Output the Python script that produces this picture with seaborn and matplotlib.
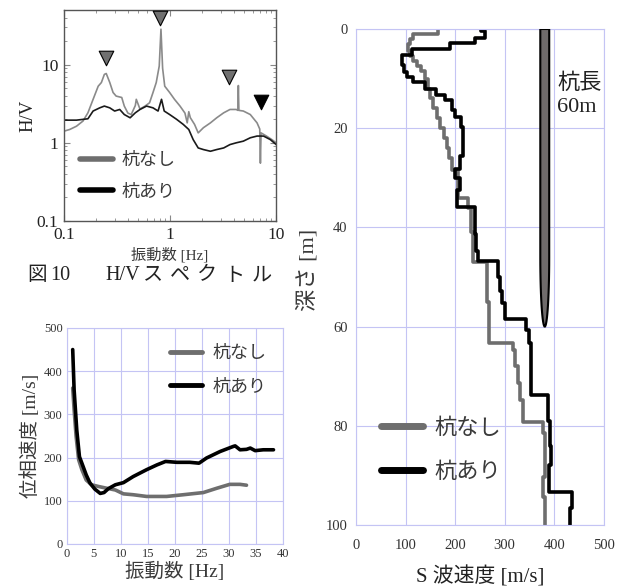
import numpy as np
import matplotlib
matplotlib.use('Agg')
import matplotlib.pyplot as plt
import seaborn as sns
from matplotlib.lines import Line2D
from matplotlib.patches import Polygon

# --- H/V spectrum ---
hv_freq_none = [0.1, 0.113, 0.131, 0.151, 0.168, 0.188, 0.21, 0.225, 0.24, 0.25, 0.27, 0.29,
                0.31, 0.35, 0.37, 0.40, 0.43, 0.47, 0.48, 0.52, 0.58, 0.64, 0.69, 0.74, 0.79,
                0.82, 0.85, 0.89, 0.99, 1.1, 1.24, 1.38, 1.45, 1.5, 1.55, 1.7, 1.84, 2.06, 2.4,
                2.75, 3.2, 3.67, 4.2, 4.35, 4.4, 4.45, 4.9, 5.7, 6.6, 7.0, 7.1, 7.2, 8.1, 9.1, 10]
hv_none = [1.41, 1.48, 1.63, 1.9, 2.42, 3.6, 5.3, 5.9, 7.5, 7.7, 5.9, 4.4,
           3.96, 3.8, 2.95, 2.4, 2.3, 3.0, 3.6, 2.7, 2.95, 3.25, 4.4, 5.9, 9.6,
           28.4, 9.0, 5.3, 4.4, 3.6, 2.95, 2.4, 1.8, 2.5, 2.1, 1.72, 1.34, 1.56, 1.8,
           2.09, 2.42, 2.67, 2.67, 2.6, 5.4, 2.6, 2.55, 2.3, 1.8, 1.5, 0.55, 1.34, 1.22, 1.1, 1.0]
hv_freq_pile = [0.1, 0.131, 0.168, 0.188, 0.217, 0.24, 0.27, 0.3, 0.335, 0.37, 0.42, 0.47,
                0.52, 0.6, 0.69, 0.77, 0.83, 0.88, 0.99, 1.15, 1.33, 1.5, 1.65, 1.84, 2.06,
                2.4, 2.75, 3.2, 3.67, 4.2, 4.9, 5.7, 6.6, 7.6, 8.8, 10]
hv_pile = [1.95, 1.95, 2.03, 2.55, 2.8, 2.95, 2.8, 2.55, 2.67, 2.3, 2.09, 2.42,
           2.67, 2.95, 2.8, 2.55, 3.6, 2.55, 2.3, 2.0, 1.72, 1.48, 1.1, 0.86, 0.82,
           0.78, 0.82, 0.86, 0.95, 1.0, 1.05, 1.16, 1.22, 1.22, 1.1, 0.95]
peak_f = [0.247, 0.81, 3.6]
peak_hv = [12.3, 40, 6.9]
peak_f_pile = [7.2]
peak_hv_pile = [3.3]

# --- phase velocity dispersion curves ---
pv_freq_none = [1.1, 1.36, 1.73, 2.2, 2.8, 3.6, 4.6, 5.9, 7.4, 9.0, 10.5, 12.3, 14.8,
                18.5, 21.6, 25.3, 27.8, 30.2, 32.1, 33.3]
pv_none = [361, 311, 249, 195, 172, 148, 137, 133, 129, 125, 116, 114, 110,
           110, 114, 119, 129, 138, 138, 136]
pv_freq_pile = [1.1, 1.36, 1.85, 2.35, 2.8, 3.6, 4.3, 5.2, 6.2, 6.9, 7.7, 9.0, 10.5,
                12.3, 14.8, 16.7, 18.3, 20.4, 22.8, 24.5, 25.9, 28.4, 30.9, 31.2, 32.1,
                33.3, 34.0, 34.9, 36.4, 38.3]
pv_pile = [450, 357, 264, 202, 187, 160, 141, 127, 117, 119, 128, 137, 142,
           156, 172, 183, 191, 189, 189, 187, 199, 214, 226, 227, 218,
           219, 222, 216, 218, 218]

# --- S-wave velocity profiles: layer bottom depth [m], Vs [m/s] ---
vs_bottom_none = [1.0, 2.0, 3.0, 4.5, 5.5, 6.5, 7.5, 8.5, 10, 12, 14, 16, 18, 20, 22, 24,
                  26, 28.4, 34, 36, 41, 47, 55, 63.4, 64.7, 68, 71.4, 74.8, 79.3, 81.5,
                  90.3, 94.3, 100]
vs_none = [166, 116, 110, 104, 110, 116, 124, 132, 140, 145, 150, 156, 163, 170, 177, 183,
           187, 193, 205, 226, 232, 236, 265, 269, 317, 321, 327, 331, 337, 378,
           381, 377, 381]
vs_bottom_pile = [0.5, 1.8, 2.8, 4.1, 5.2, 7.2, 8.6, 9.6, 10.6, 12, 13.3, 14.3, 16.4, 17.7,
                  19.7, 25.7, 28.3, 30, 32.4, 35.8, 41.3, 44.7, 46.8, 50, 52.8, 55.3, 58.5,
                  60.7, 63.4, 73.8, 79, 84, 88, 93.3, 96.6, 100]
vs_pile = [253, 260, 241, 190, 113, 92, 96, 102, 116, 139, 162, 179, 193, 200,
           212, 216, 210, 200, 210, 204, 240, 243, 247, 287, 291, 294, 300,
           344, 349, 353, 388, 391, 393, 389, 435, 431]
pile_length = 60
pile_vs = 381

labels = ['杭なし', '杭あり']
c_none = '#6e6e6e'
c_pile = '#000000'
grid_c = '#c4c4f4'
jp = ['Noto Sans CJK JP', 'DejaVu Sans']
mix = ['Liberation Serif', 'Noto Sans CJK JP']
txt_c = '#3a3a3a'

sns.set_style('white')
plt.rcParams['font.family'] = ['Liberation Serif', 'Noto Sans CJK JP']


def step_xy(bottoms, values):
    tops = [0] + list(bottoms[:-1])
    ys = np.column_stack([tops, bottoms]).ravel()
    xs = np.repeat(values, 2)
    return xs, ys


def handles(lw):
    return [Line2D([], [], color=c_none, lw=lw), Line2D([], [], color=c_pile, lw=lw)]


fig = plt.figure(figsize=(6.24, 5.87), dpi=100)

# ---------- H/V ----------
ax1 = fig.add_axes([0.1026, 0.6235, 0.340, 0.3595])
ax1.set(xscale='log', yscale='log')
sns.lineplot(x=hv_freq_none, y=hv_none, ax=ax1, color='#8a8a8a', lw=1.2, sort=False, estimator=None)
sns.lineplot(x=hv_freq_pile, y=hv_pile, ax=ax1, color='#1a1a1a', lw=1.2, sort=False, estimator=None)
ax1.scatter(peak_f, peak_hv, marker='v', s=110, color='#707070', edgecolor='black', lw=0.8, zorder=5)
ax1.scatter(peak_f_pile, peak_hv_pile, marker='v', s=110, color='black', edgecolor='black', lw=0.8, zorder=5)
ax1.set_xlim(0.1, 10)
ax1.set_ylim(0.1, 50)
ax1.set_xticks([0.1, 1, 10], ['0.1', '1', '10'])
ax1.set_yticks([0.1, 1, 10], ['0.1', '1', '10'])
ax1.tick_params(which='both', direction='in', bottom=True, left=True, top=True, right=True,
                labelsize=12.5, labelcolor='#222222', color='#888888')
ax1.tick_params(which='major', length=4, pad=4)
ax1.tick_params(which='minor', length=2)
for s in ax1.spines.values():
    s.set_color('#555555')
    s.set_linewidth(1.0)
ax1.set_xlabel('振動数 [Hz]', fontsize=11, family=mix, color=txt_c, labelpad=3)
ax1.set_ylabel('H/V', fontsize=13.5, color='#222222', labelpad=0)
ax1.legend(handles(4), labels, loc='lower left', bbox_to_anchor=(0.0, 0.02), frameon=False,
           prop={'family': jp, 'size': 13}, handlelength=1.8, handletextpad=0.5,
           labelspacing=0.75, labelcolor=txt_c)

# caption below the H/V panel
cap_y = 1 - 275 / 587
fig.text(27 / 624, cap_y, '図', fontsize=14, family=jp, color='#222222', va='center')
fig.text(50 / 624, cap_y, '10', fontsize=14.5, family=mix, color='#222222', va='center')
fig.text(105 / 624, cap_y, 'H/V', fontsize=14.5, family=mix, color='#222222', va='center')
for i, ch in enumerate('スペクトル'):
    fig.text((143 + i * 27.2) / 624, cap_y, ch, fontsize=14.5, family=jp, color='#222222', va='center')

# ---------- phase velocity ----------
ax2 = fig.add_axes([0.107, 0.0733, 0.346, 0.368])
sns.lineplot(x=pv_freq_none, y=pv_none, ax=ax2, color=c_none, lw=2.6, sort=False, estimator=None)
sns.lineplot(x=pv_freq_pile, y=pv_pile, ax=ax2, color=c_pile, lw=2.6, sort=False, estimator=None)
ax2.set_xlim(0, 40)
ax2.set_ylim(0, 500)
ax2.set_xticks(range(0, 41, 5))
ax2.set_yticks(range(0, 501, 100))
ax2.grid(True, color=grid_c, lw=0.8)
ax2.tick_params(length=0, labelsize=9, labelcolor='#333333', pad=3)
for s in ax2.spines.values():
    s.set_color(grid_c)
ax2.set_xlabel('振動数 [Hz]', fontsize=14, color=txt_c, labelpad=1)
ax2.set_ylabel('位相速度 [m/s]', fontsize=14, color=txt_c, labelpad=3)
ax2.legend(handles(3.5), labels, loc='upper right', bbox_to_anchor=(1.0, 1.0), frameon=False,
           prop={'family': jp, 'size': 13}, handlelength=1.8, handletextpad=0.55,
           labelspacing=0.85, labelcolor=txt_c)

# ---------- Vs profile ----------
ax3 = fig.add_axes([0.5705, 0.1056, 0.397, 0.845])
x, y = step_xy(vs_bottom_none, vs_none)
sns.lineplot(x=x, y=y, ax=ax3, color=c_none, lw=2.6, sort=False, estimator=None)
x, y = step_xy(vs_bottom_pile, vs_pile)
sns.lineplot(x=x, y=y, ax=ax3, color=c_pile, lw=2.6, sort=False, estimator=None)

half_w = 9
tip = 14
t = np.linspace(0, np.pi, 30)
px = [pile_vs - half_w, pile_vs + half_w] + list(pile_vs + half_w * np.cos(t))
py = [0, 0] + list(pile_length - tip + tip * np.sin(t))
ax3.add_patch(Polygon(np.column_stack([px, py]), closed=True, fc='#6f6b6b', ec='black', lw=1.5, zorder=4))
ax3.text(pile_vs + 25, 13.3, '杭長\n60m', fontsize=16, family=mix, color='#222222',
         va='center', ha='left', linespacing=1.3)

ax3.set_xlim(0, 500)
ax3.set_ylim(100, 0)
ax3.set_xticks(range(0, 501, 100))
ax3.set_yticks(range(0, 101, 20))
ax3.grid(True, color=grid_c, lw=0.8)
ax3.tick_params(length=0, labelsize=10.5, labelcolor='#333333', pad=6)
ax3.tick_params(axis='x', pad=10)
for s in ax3.spines.values():
    s.set_color(grid_c)
ax3.set_xlabel('S 波速度 [m/s]', fontsize=15, family=mix, color='#222222', labelpad=10)
ax3.set_ylabel('深さ [m]', fontsize=16, color=txt_c)
ax3.yaxis.set_label_coords(-0.15, 0.514)
ax3.legend(handles(5), labels, loc='lower left', bbox_to_anchor=(0.02, 0.045), frameon=False,
           prop={'family': jp, 'size': 16}, handlelength=1.9, handletextpad=0.5,
           labelspacing=0.95, labelcolor=txt_c)

fig.savefig('out.png', dpi=100)
